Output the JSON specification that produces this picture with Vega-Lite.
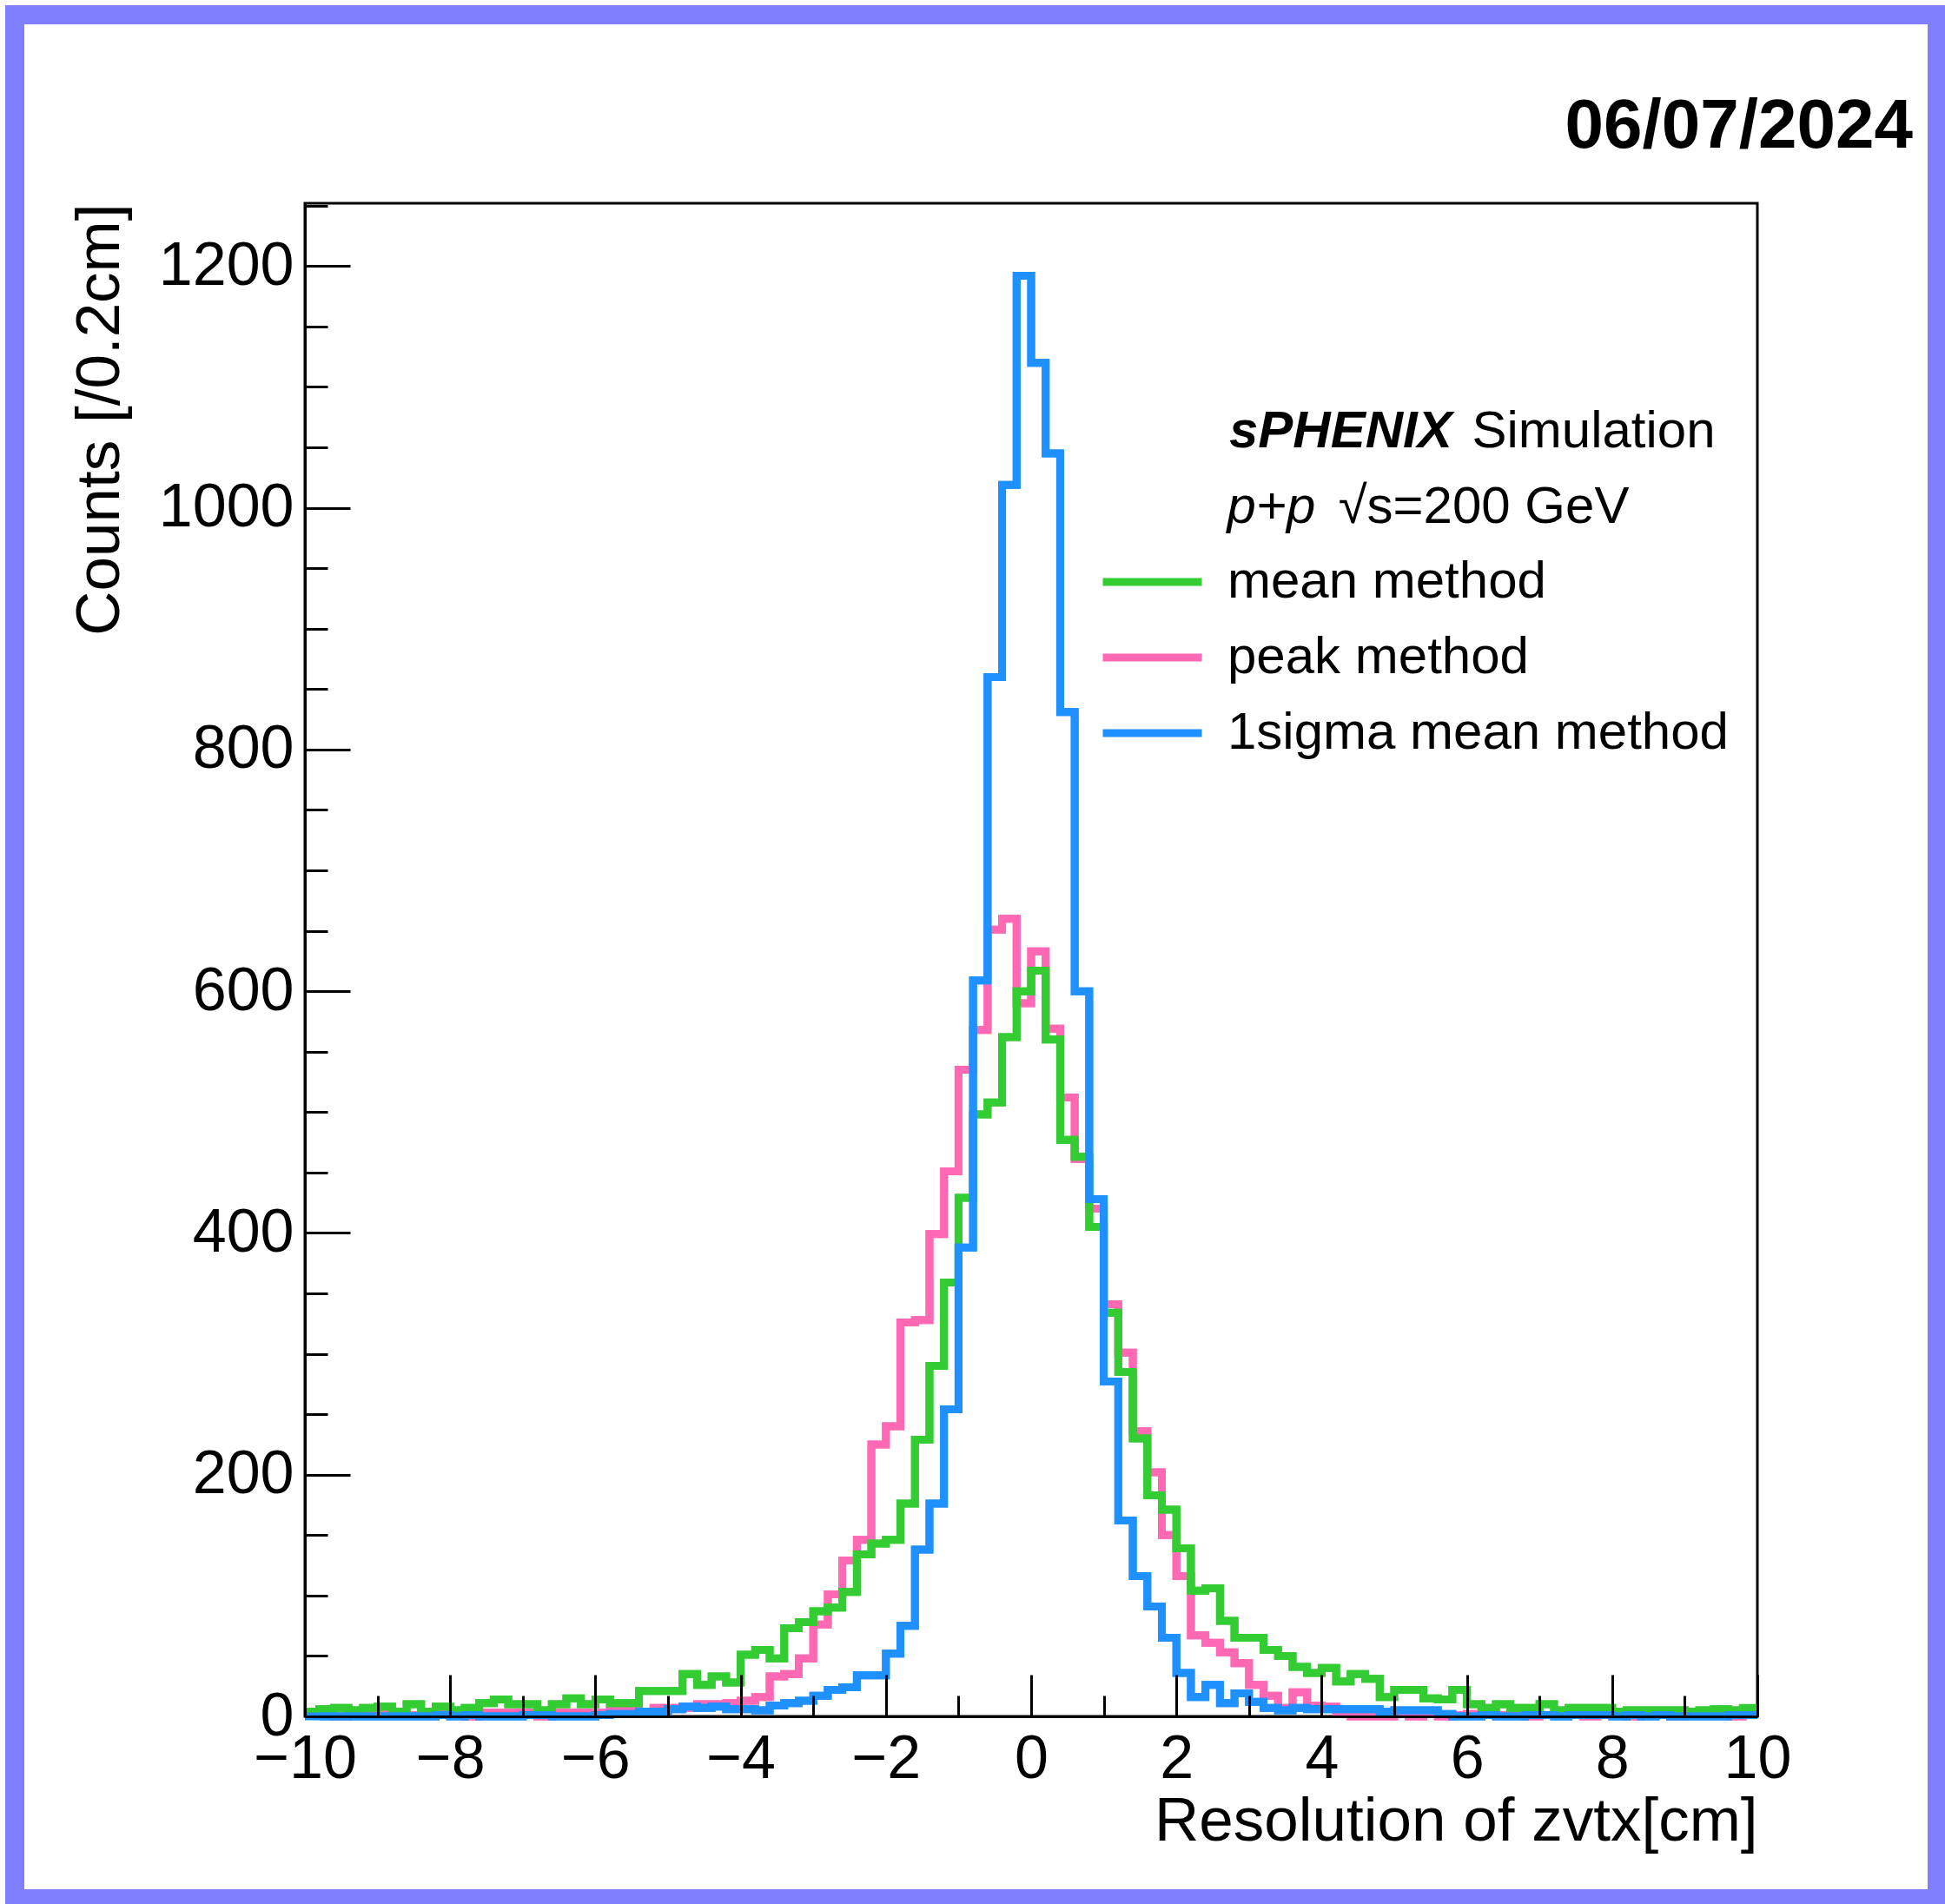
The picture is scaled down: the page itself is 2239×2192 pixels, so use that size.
{
"$schema":"https://vega.github.io/schema/vega-lite/v6.json",
"width":1672,"height":1742,
"autosize":{"type":"none"},
"padding":{"left":351,"top":234,"right":216,"bottom":216},
"background":"white",
"config":{"view":{"stroke":"black","strokeWidth":3},"font":"Liberation Sans"},
"datasets":{
"mean":[{"lo":-10,"hi":-9.8,"count":4},{"lo":-9.8,"hi":-9.6,"count":6},{"lo":-9.6,"hi":-9.4,"count":7},{"lo":-9.4,"hi":-9.2,"count":5},{"lo":-9.2,"hi":-9,"count":7},{"lo":-9,"hi":-8.8,"count":8},{"lo":-8.8,"hi":-8.6,"count":4},{"lo":-8.6,"hi":-8.4,"count":10},{"lo":-8.4,"hi":-8.2,"count":4},{"lo":-8.2,"hi":-8,"count":8},
{"lo":-8,"hi":-7.8,"count":5},{"lo":-7.8,"hi":-7.6,"count":7},{"lo":-7.6,"hi":-7.4,"count":11},{"lo":-7.4,"hi":-7.2,"count":14},{"lo":-7.2,"hi":-7,"count":10},{"lo":-7,"hi":-6.8,"count":10},{"lo":-6.8,"hi":-6.6,"count":5},{"lo":-6.6,"hi":-6.4,"count":10},{"lo":-6.4,"hi":-6.2,"count":15},{"lo":-6.2,"hi":-6,"count":10},
{"lo":-6,"hi":-5.8,"count":14},{"lo":-5.8,"hi":-5.6,"count":11},{"lo":-5.6,"hi":-5.4,"count":11},{"lo":-5.4,"hi":-5.2,"count":21},{"lo":-5.2,"hi":-5,"count":21},{"lo":-5,"hi":-4.8,"count":21},{"lo":-4.8,"hi":-4.6,"count":35},{"lo":-4.6,"hi":-4.4,"count":26},{"lo":-4.4,"hi":-4.2,"count":33},{"lo":-4.2,"hi":-4,"count":28},
{"lo":-4,"hi":-3.8,"count":51},{"lo":-3.8,"hi":-3.6,"count":55},{"lo":-3.6,"hi":-3.4,"count":48},{"lo":-3.4,"hi":-3.2,"count":73},{"lo":-3.2,"hi":-3,"count":78},{"lo":-3,"hi":-2.8,"count":87},{"lo":-2.8,"hi":-2.6,"count":90},{"lo":-2.6,"hi":-2.4,"count":103},{"lo":-2.4,"hi":-2.2,"count":134},{"lo":-2.2,"hi":-2,"count":143},
{"lo":-2,"hi":-1.8,"count":146},{"lo":-1.8,"hi":-1.6,"count":176},{"lo":-1.6,"hi":-1.4,"count":229},{"lo":-1.4,"hi":-1.2,"count":290},{"lo":-1.2,"hi":-1,"count":359},{"lo":-1,"hi":-0.8,"count":429},{"lo":-0.8,"hi":-0.6,"count":498},{"lo":-0.6,"hi":-0.4,"count":508},{"lo":-0.4,"hi":-0.2,"count":562},{"lo":-0.2,"hi":0,"count":600},
{"lo":0,"hi":0.2,"count":617},{"lo":0.2,"hi":0.4,"count":560},{"lo":0.4,"hi":0.6,"count":477},{"lo":0.6,"hi":0.8,"count":463},{"lo":0.8,"hi":1,"count":405},{"lo":1,"hi":1.2,"count":334},{"lo":1.2,"hi":1.4,"count":285},{"lo":1.4,"hi":1.6,"count":230},{"lo":1.6,"hi":1.8,"count":183},{"lo":1.8,"hi":2,"count":171},
{"lo":2,"hi":2.2,"count":139},{"lo":2.2,"hi":2.4,"count":104},{"lo":2.4,"hi":2.6,"count":106},{"lo":2.6,"hi":2.8,"count":79},{"lo":2.8,"hi":3,"count":65},{"lo":3,"hi":3.2,"count":65},{"lo":3.2,"hi":3.4,"count":55},{"lo":3.4,"hi":3.6,"count":50},{"lo":3.6,"hi":3.8,"count":41},{"lo":3.8,"hi":4,"count":36},
{"lo":4,"hi":4.2,"count":40},{"lo":4.2,"hi":4.4,"count":29},{"lo":4.4,"hi":4.6,"count":35},{"lo":4.6,"hi":4.8,"count":31},{"lo":4.8,"hi":5,"count":16},{"lo":5,"hi":5.2,"count":22},{"lo":5.2,"hi":5.4,"count":22},{"lo":5.4,"hi":5.6,"count":15},{"lo":5.6,"hi":5.8,"count":14},{"lo":5.8,"hi":6,"count":22},
{"lo":6,"hi":6.2,"count":10},{"lo":6.2,"hi":6.4,"count":7},{"lo":6.4,"hi":6.6,"count":10},{"lo":6.6,"hi":6.8,"count":7},{"lo":6.8,"hi":7,"count":7},{"lo":7,"hi":7.2,"count":10},{"lo":7.2,"hi":7.4,"count":5},{"lo":7.4,"hi":7.6,"count":7},{"lo":7.6,"hi":7.8,"count":7},{"lo":7.8,"hi":8,"count":7},
{"lo":8,"hi":8.2,"count":4},{"lo":8.2,"hi":8.4,"count":5},{"lo":8.4,"hi":8.6,"count":5},{"lo":8.6,"hi":8.8,"count":5},{"lo":8.8,"hi":9,"count":5},{"lo":9,"hi":9.2,"count":4},{"lo":9.2,"hi":9.4,"count":5},{"lo":9.4,"hi":9.6,"count":6},{"lo":9.6,"hi":9.8,"count":5},{"lo":9.8,"hi":10,"count":7}],
"peak":[{"lo":-10,"hi":-9.8,"count":2},{"lo":-9.8,"hi":-9.6,"count":2},{"lo":-9.6,"hi":-9.4,"count":0},{"lo":-9.4,"hi":-9.2,"count":2},{"lo":-9.2,"hi":-9,"count":1},{"lo":-9,"hi":-8.8,"count":2},{"lo":-8.8,"hi":-8.6,"count":2},{"lo":-8.6,"hi":-8.4,"count":1},{"lo":-8.4,"hi":-8.2,"count":2},{"lo":-8.2,"hi":-8,"count":2},
{"lo":-8,"hi":-7.8,"count":1},{"lo":-7.8,"hi":-7.6,"count":0},{"lo":-7.6,"hi":-7.4,"count":3},{"lo":-7.4,"hi":-7.2,"count":3},{"lo":-7.2,"hi":-7,"count":3},{"lo":-7,"hi":-6.8,"count":3},{"lo":-6.8,"hi":-6.6,"count":0},{"lo":-6.6,"hi":-6.4,"count":3},{"lo":-6.4,"hi":-6.2,"count":3},{"lo":-6.2,"hi":-6,"count":3},
{"lo":-6,"hi":-5.8,"count":3},{"lo":-5.8,"hi":-5.6,"count":5},{"lo":-5.6,"hi":-5.4,"count":5},{"lo":-5.4,"hi":-5.2,"count":4},{"lo":-5.2,"hi":-5,"count":7},{"lo":-5,"hi":-4.8,"count":7},{"lo":-4.8,"hi":-4.6,"count":7},{"lo":-4.6,"hi":-4.4,"count":10},{"lo":-4.4,"hi":-4.2,"count":10},{"lo":-4.2,"hi":-4,"count":11},
{"lo":-4,"hi":-3.8,"count":13},{"lo":-3.8,"hi":-3.6,"count":16},{"lo":-3.6,"hi":-3.4,"count":33},{"lo":-3.4,"hi":-3.2,"count":35},{"lo":-3.2,"hi":-3,"count":48},{"lo":-3,"hi":-2.8,"count":76},{"lo":-2.8,"hi":-2.6,"count":101},{"lo":-2.6,"hi":-2.4,"count":129},{"lo":-2.4,"hi":-2.2,"count":146},{"lo":-2.2,"hi":-2,"count":225},
{"lo":-2,"hi":-1.8,"count":240},{"lo":-1.8,"hi":-1.6,"count":326},{"lo":-1.6,"hi":-1.4,"count":328},{"lo":-1.4,"hi":-1.2,"count":399},{"lo":-1.2,"hi":-1,"count":451},{"lo":-1,"hi":-0.8,"count":535},{"lo":-0.8,"hi":-0.6,"count":568},{"lo":-0.6,"hi":-0.4,"count":651},{"lo":-0.4,"hi":-0.2,"count":660},{"lo":-0.2,"hi":0,"count":590},
{"lo":0,"hi":0.2,"count":633},{"lo":0.2,"hi":0.4,"count":569},{"lo":0.4,"hi":0.6,"count":512},{"lo":0.6,"hi":0.8,"count":461},{"lo":0.8,"hi":1,"count":420},{"lo":1,"hi":1.2,"count":341},{"lo":1.2,"hi":1.4,"count":301},{"lo":1.4,"hi":1.6,"count":236},{"lo":1.6,"hi":1.8,"count":202},{"lo":1.8,"hi":2,"count":150},
{"lo":2,"hi":2.2,"count":116},{"lo":2.2,"hi":2.4,"count":67},{"lo":2.4,"hi":2.6,"count":61},{"lo":2.6,"hi":2.8,"count":53},{"lo":2.8,"hi":3,"count":44},{"lo":3,"hi":3.2,"count":26},{"lo":3.2,"hi":3.4,"count":17},{"lo":3.4,"hi":3.6,"count":7},{"lo":3.6,"hi":3.8,"count":20},{"lo":3.8,"hi":4,"count":9},
{"lo":4,"hi":4.2,"count":8},{"lo":4.2,"hi":4.4,"count":4},{"lo":4.4,"hi":4.6,"count":0},{"lo":4.6,"hi":4.8,"count":0},{"lo":4.8,"hi":5,"count":0},{"lo":5,"hi":5.2,"count":2},{"lo":5.2,"hi":5.4,"count":0},{"lo":5.4,"hi":5.6,"count":2},{"lo":5.6,"hi":5.8,"count":0},{"lo":5.8,"hi":6,"count":1},
{"lo":6,"hi":6.2,"count":2},{"lo":6.2,"hi":6.4,"count":1},{"lo":6.4,"hi":6.6,"count":1},{"lo":6.6,"hi":6.8,"count":2},{"lo":6.8,"hi":7,"count":0},{"lo":7,"hi":7.2,"count":1},{"lo":7.2,"hi":7.4,"count":1},{"lo":7.4,"hi":7.6,"count":2},{"lo":7.6,"hi":7.8,"count":0},{"lo":7.8,"hi":8,"count":1},
{"lo":8,"hi":8.2,"count":1},{"lo":8.2,"hi":8.4,"count":0},{"lo":8.4,"hi":8.6,"count":1},{"lo":8.6,"hi":8.8,"count":1},{"lo":8.8,"hi":9,"count":0},{"lo":9,"hi":9.2,"count":1},{"lo":9.2,"hi":9.4,"count":1},{"lo":9.4,"hi":9.6,"count":1},{"lo":9.6,"hi":9.8,"count":0},{"lo":9.8,"hi":10,"count":1}],
"sigma":[{"lo":-10,"hi":-9.8,"count":0},{"lo":-9.8,"hi":-9.6,"count":0},{"lo":-9.6,"hi":-9.4,"count":0},{"lo":-9.4,"hi":-9.2,"count":0},{"lo":-9.2,"hi":-9,"count":0},{"lo":-9,"hi":-8.8,"count":0},{"lo":-8.8,"hi":-8.6,"count":0},{"lo":-8.6,"hi":-8.4,"count":0},{"lo":-8.4,"hi":-8.2,"count":0},{"lo":-8.2,"hi":-8,"count":1},
{"lo":-8,"hi":-7.8,"count":0},{"lo":-7.8,"hi":-7.6,"count":1},{"lo":-7.6,"hi":-7.4,"count":0},{"lo":-7.4,"hi":-7.2,"count":0},{"lo":-7.2,"hi":-7,"count":0},{"lo":-7,"hi":-6.8,"count":1},{"lo":-6.8,"hi":-6.6,"count":1},{"lo":-6.6,"hi":-6.4,"count":0},{"lo":-6.4,"hi":-6.2,"count":0},{"lo":-6.2,"hi":-6,"count":0},
{"lo":-6,"hi":-5.8,"count":1},{"lo":-5.8,"hi":-5.6,"count":2},{"lo":-5.6,"hi":-5.4,"count":2},{"lo":-5.4,"hi":-5.2,"count":4},{"lo":-5.2,"hi":-5,"count":4},{"lo":-5,"hi":-4.8,"count":6},{"lo":-4.8,"hi":-4.6,"count":8},{"lo":-4.6,"hi":-4.4,"count":7},{"lo":-4.4,"hi":-4.2,"count":8},{"lo":-4.2,"hi":-4,"count":6},
{"lo":-4,"hi":-3.8,"count":6},{"lo":-3.8,"hi":-3.6,"count":5},{"lo":-3.6,"hi":-3.4,"count":9},{"lo":-3.4,"hi":-3.2,"count":11},{"lo":-3.2,"hi":-3,"count":13},{"lo":-3,"hi":-2.8,"count":17},{"lo":-2.8,"hi":-2.6,"count":22},{"lo":-2.6,"hi":-2.4,"count":24},{"lo":-2.4,"hi":-2.2,"count":34},{"lo":-2.2,"hi":-2,"count":34},
{"lo":-2,"hi":-1.8,"count":52},{"lo":-1.8,"hi":-1.6,"count":75},{"lo":-1.6,"hi":-1.4,"count":138},{"lo":-1.4,"hi":-1.2,"count":176},{"lo":-1.2,"hi":-1,"count":254},{"lo":-1,"hi":-0.8,"count":388},{"lo":-0.8,"hi":-0.6,"count":609},{"lo":-0.6,"hi":-0.4,"count":860},{"lo":-0.4,"hi":-0.2,"count":1019},{"lo":-0.2,"hi":0,"count":1192},
{"lo":0,"hi":0.2,"count":1120},{"lo":0.2,"hi":0.4,"count":1045},{"lo":0.4,"hi":0.6,"count":831},{"lo":0.6,"hi":0.8,"count":600},{"lo":0.8,"hi":1,"count":428},{"lo":1,"hi":1.2,"count":277},{"lo":1.2,"hi":1.4,"count":162},{"lo":1.4,"hi":1.6,"count":116},{"lo":1.6,"hi":1.8,"count":91},{"lo":1.8,"hi":2,"count":65},
{"lo":2,"hi":2.2,"count":36},{"lo":2.2,"hi":2.4,"count":16},{"lo":2.4,"hi":2.6,"count":26},{"lo":2.6,"hi":2.8,"count":11},{"lo":2.8,"hi":3,"count":19},{"lo":3,"hi":3.2,"count":12},{"lo":3.2,"hi":3.4,"count":7},{"lo":3.4,"hi":3.6,"count":5},{"lo":3.6,"hi":3.8,"count":7},{"lo":3.8,"hi":4,"count":6},
{"lo":4,"hi":4.2,"count":6},{"lo":4.2,"hi":4.4,"count":6},{"lo":4.4,"hi":4.6,"count":6},{"lo":4.6,"hi":4.8,"count":6},{"lo":4.8,"hi":5,"count":4},{"lo":5,"hi":5.2,"count":5},{"lo":5.2,"hi":5.4,"count":5},{"lo":5.4,"hi":5.6,"count":5},{"lo":5.6,"hi":5.8,"count":2},{"lo":5.8,"hi":6,"count":0},
{"lo":6,"hi":6.2,"count":0},{"lo":6.2,"hi":6.4,"count":1},{"lo":6.4,"hi":6.6,"count":0},{"lo":6.6,"hi":6.8,"count":0},{"lo":6.8,"hi":7,"count":1},{"lo":7,"hi":7.2,"count":1},{"lo":7.2,"hi":7.4,"count":0},{"lo":7.4,"hi":7.6,"count":1},{"lo":7.6,"hi":7.8,"count":1},{"lo":7.8,"hi":8,"count":1},
{"lo":8,"hi":8.2,"count":0},{"lo":8.2,"hi":8.4,"count":1},{"lo":8.4,"hi":8.6,"count":0},{"lo":8.6,"hi":8.8,"count":1},{"lo":8.8,"hi":9,"count":0},{"lo":9,"hi":9.2,"count":0},{"lo":9.2,"hi":9.4,"count":0},{"lo":9.4,"hi":9.6,"count":0},{"lo":9.6,"hi":9.8,"count":1},{"lo":9.8,"hi":10,"count":1}]
},
"layer":[
{"data":{"name":"peak"},"mark":{"type":"line","interpolate":"step-after","strokeWidth":9},
 "encoding":{
  "x":{"field":"lo","type":"quantitative","scale":{"domain":[-10,10],"nice":false,"zero":false},
   "axis":{"values":[-10,-9.5,-9,-8.5,-8,-7.5,-7,-6.5,-6,-5.5,-5,-4.5,-4,-3.5,-3,-2.5,-2,-1.5,-1,-0.5,0,0.5,1,1.5,2,2.5,3,3.5,4,4.5,5,5.5,6,6.5,7,7.5,8,8.5,9,9.5,10],
    "format":"d","labelExpr":"datum.value % 2 === 0 ? datum.label : ''",
    "tickSize":{"condition":{"test":"datum.value % 2 === 0","value":-48},"value":-24},
    "tickWidth":3,"tickColor":"black","domainWidth":3,"domainColor":"black","grid":false,
    "labelFont":"Liberation Sans","labelFontSize":70,"labelColor":"black","labelPadding":118,"labelBaseline":"alphabetic",
    "labelFlush":false,"labelOverlap":false,"labelBound":false,
    "title":"Resolution of zvtx[cm]","titleFont":"Liberation Sans","titleFontSize":71,"titleFontWeight":"normal","titleColor":"black",
    "titleAnchor":"end","titleAlign":"right","titleBaseline":"alphabetic","titleX":1672,"titleY":142,"zindex":1}},
  "y":{"field":"count","type":"quantitative","scale":{"domain":[0,1252],"nice":false,"zero":false},
   "axis":{"values":[0,50,100,150,200,250,300,350,400,450,500,550,600,650,700,750,800,850,900,950,1000,1050,1100,1150,1200,1250],
    "format":"d","labelExpr":"datum.value % 200 === 0 ? datum.label : ''",
    "tickSize":{"condition":{"test":"datum.value % 200 === 0","value":-52},"value":-26},
    "tickWidth":3,"tickColor":"black","domainWidth":3,"domainColor":"black","grid":false,
    "labelFont":"Liberation Sans","labelFontSize":70,"labelColor":"black","labelPadding":65,
    "labelFlush":false,"labelOverlap":false,"labelBound":false,
    "title":"Counts [/0.2cm]","titleFont":"Liberation Sans","titleFontSize":71,"titleFontWeight":"normal","titleColor":"black",
    "titleAngle":270,"titleAnchor":"end","titleAlign":"right","titleBaseline":"alphabetic","titleX":-215,"titleY":0,"zindex":1}},
  "color":{"datum":"peak method","type":"nominal",
   "scale":{"domain":["mean method","peak method","1sigma mean method"],"range":["#33cc33","#ff69b4","#1e90ff"]},
   "legend":{"title":null,"orient":"none","legendX":914,"legendY":406,"direction":"vertical","symbolType":"stroke","symbolSize":12996,"symbolStrokeWidth":9,
    "clipHeight":60,"labelFont":"Liberation Sans","labelFontSize":60,"labelColor":"black","labelOffset":25,"rowPadding":27,"padding":0,"offset":0,"labelLimit":0}}}},
{"data":{"values":[{}]},"mark":{"type":"rect","fill":null,"stroke":"#8080ff","strokeWidth":22},
 "encoding":{"x":{"datum":-13.995,"type":"quantitative","scale":{"domain":[-10,10],"nice":false,"zero":false}},
  "x2":{"datum":12.476},
  "y":{"datum":1408,"type":"quantitative","scale":{"domain":[0,1252],"nice":false,"zero":false}},
  "y2":{"datum":-150.9}}},
{"data":{"name":"peak"},"mark":{"type":"line","interpolate":"step-before","strokeWidth":9},
 "encoding":{"x":{"field":"hi","type":"quantitative","scale":{"domain":[-10,10],"nice":false,"zero":false}},
  "y":{"field":"count","type":"quantitative","scale":{"domain":[0,1252],"nice":false,"zero":false}},
  "color":{"datum":"peak method","type":"nominal","scale":{"domain":["mean method","peak method","1sigma mean method"],"range":["#33cc33","#ff69b4","#1e90ff"]},"legend":null}}},
{"data":{"name":"mean"},"mark":{"type":"line","interpolate":"step-after","strokeWidth":9},
 "encoding":{"x":{"field":"lo","type":"quantitative","scale":{"domain":[-10,10],"nice":false,"zero":false}},
  "y":{"field":"count","type":"quantitative","scale":{"domain":[0,1252],"nice":false,"zero":false}},
  "color":{"datum":"mean method","type":"nominal","scale":{"domain":["mean method","peak method","1sigma mean method"],"range":["#33cc33","#ff69b4","#1e90ff"]},"legend":null}}},
{"data":{"name":"mean"},"mark":{"type":"line","interpolate":"step-before","strokeWidth":9},
 "encoding":{"x":{"field":"hi","type":"quantitative","scale":{"domain":[-10,10],"nice":false,"zero":false}},
  "y":{"field":"count","type":"quantitative","scale":{"domain":[0,1252],"nice":false,"zero":false}},
  "color":{"datum":"mean method","type":"nominal","scale":{"domain":["mean method","peak method","1sigma mean method"],"range":["#33cc33","#ff69b4","#1e90ff"]},"legend":null}}},
{"data":{"name":"sigma"},"mark":{"type":"line","interpolate":"step-after","strokeWidth":9},
 "encoding":{"x":{"field":"lo","type":"quantitative","scale":{"domain":[-10,10],"nice":false,"zero":false}},
  "y":{"field":"count","type":"quantitative","scale":{"domain":[0,1252],"nice":false,"zero":false}},
  "color":{"datum":"1sigma mean method","type":"nominal","scale":{"domain":["mean method","peak method","1sigma mean method"],"range":["#33cc33","#ff69b4","#1e90ff"]},"legend":null}}},
{"data":{"name":"sigma"},"mark":{"type":"line","interpolate":"step-before","strokeWidth":9},
 "encoding":{"x":{"field":"hi","type":"quantitative","scale":{"domain":[-10,10],"nice":false,"zero":false}},
  "y":{"field":"count","type":"quantitative","scale":{"domain":[0,1252],"nice":false,"zero":false}},
  "color":{"datum":"1sigma mean method","type":"nominal","scale":{"domain":["mean method","peak method","1sigma mean method"],"range":["#33cc33","#ff69b4","#1e90ff"]},"legend":null}}},
{"data":{"values":[{}]},"mark":{"type":"text","text":"sPHENIX","font":"Liberation Sans","fontSize":60,"fontWeight":"bold","fontStyle":"italic","align":"left","baseline":"alphabetic","color":"black"},
 "encoding":{"x":{"datum":2.727,"type":"quantitative","scale":{"domain":[-10,10],"nice":false,"zero":false}},"y":{"datum":1050,"type":"quantitative","scale":{"domain":[0,1252],"nice":false,"zero":false}}}},
{"data":{"values":[{}]},"mark":{"type":"text","text":"Simulation","font":"Liberation Sans","fontSize":60,"align":"left","baseline":"alphabetic","color":"black"},
 "encoding":{"x":{"datum":6.07,"type":"quantitative","scale":{"domain":[-10,10],"nice":false,"zero":false}},"y":{"datum":1050,"type":"quantitative","scale":{"domain":[0,1252],"nice":false,"zero":false}}}},
{"data":{"values":[{}]},"mark":{"type":"text","text":"p+p","font":"Liberation Sans","fontSize":60,"fontStyle":"italic","align":"left","baseline":"alphabetic","color":"black"},
 "encoding":{"x":{"datum":2.697,"type":"quantitative","scale":{"domain":[-10,10],"nice":false,"zero":false}},"y":{"datum":987.5,"type":"quantitative","scale":{"domain":[0,1252],"nice":false,"zero":false}}}},
{"data":{"values":[{}]},"mark":{"type":"text","text":"√s=200 GeV","font":"Liberation Sans","fontSize":60,"align":"left","baseline":"alphabetic","color":"black"},
 "encoding":{"x":{"datum":4.23,"type":"quantitative","scale":{"domain":[-10,10],"nice":false,"zero":false}},"y":{"datum":987.5,"type":"quantitative","scale":{"domain":[0,1252],"nice":false,"zero":false}}}},
{"data":{"values":[{}]},"mark":{"type":"text","text":"06/07/2024","font":"Liberation Sans","fontSize":80,"fontWeight":"bold","align":"right","baseline":"alphabetic","color":"black"},
 "encoding":{"x":{"datum":12.14,"type":"quantitative","scale":{"domain":[-10,10],"nice":false,"zero":false}},"y":{"datum":1298,"type":"quantitative","scale":{"domain":[0,1252],"nice":false,"zero":false}}}}
]
}
